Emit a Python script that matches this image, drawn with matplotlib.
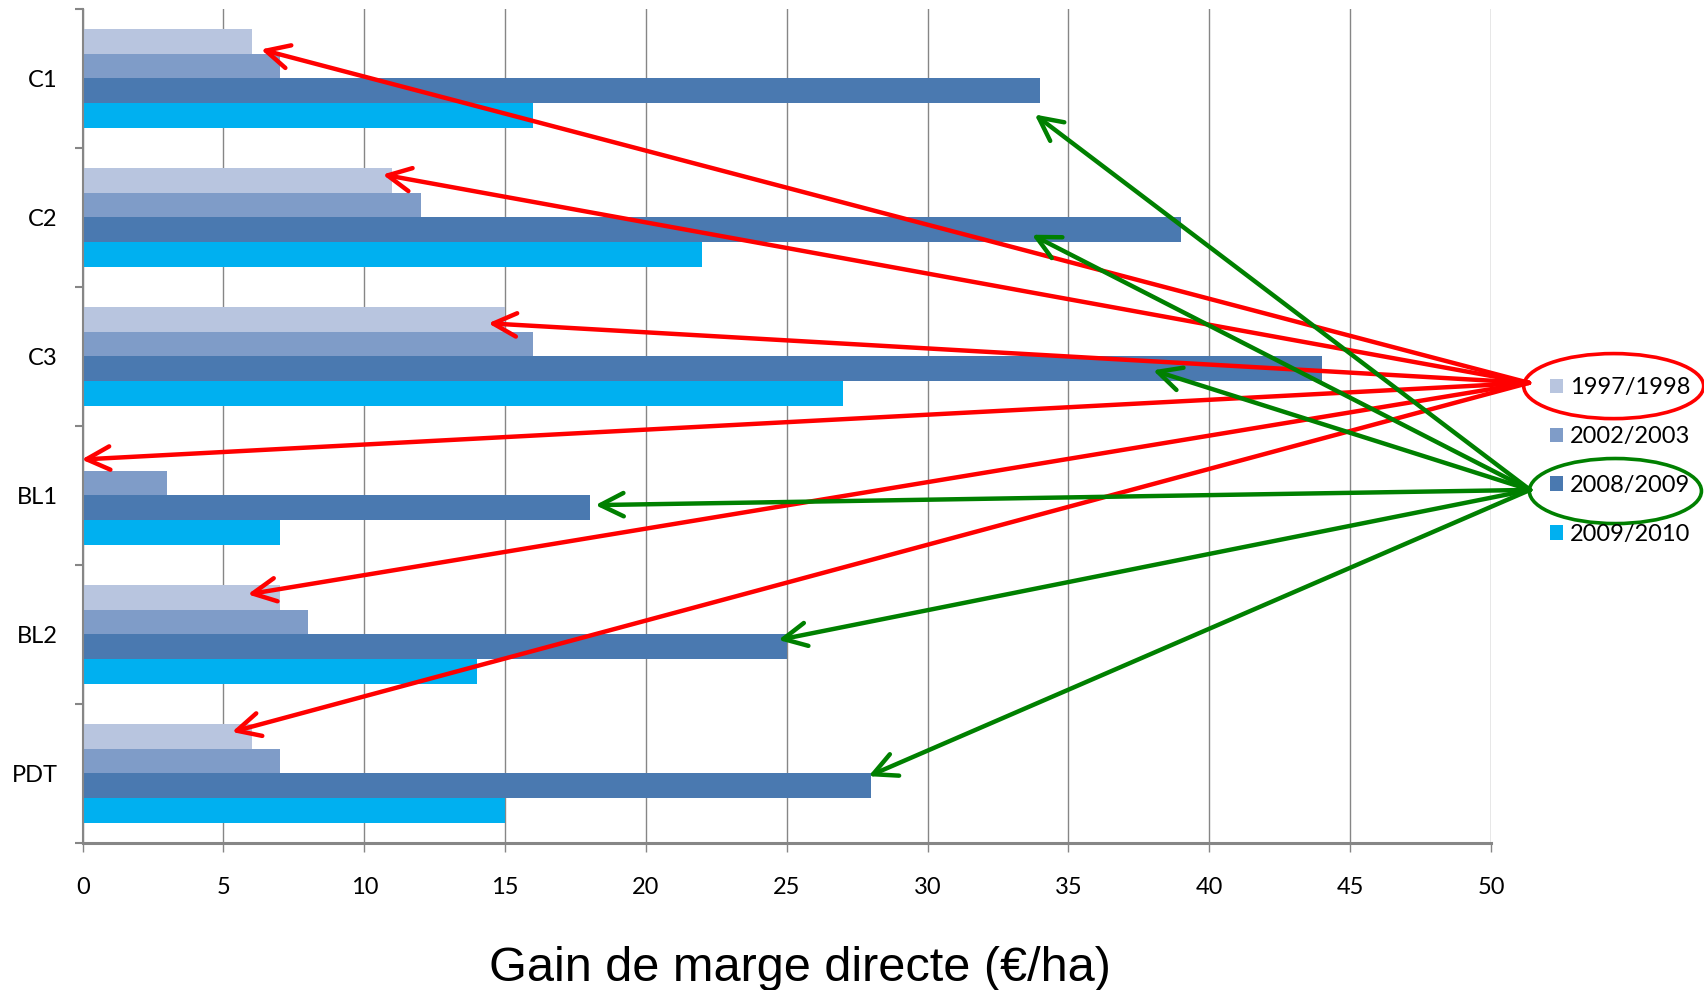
import matplotlib
matplotlib.use('Agg')
import matplotlib.pyplot as plt
from matplotlib.patches import Ellipse
from matplotlib.ticker import FixedLocator
import numpy as np

categories = ['C1', 'C2', 'C3', 'BL1', 'BL2', 'PDT']
seasons = ['1997/1998', '2002/2003', '2008/2009', '2009/2010']
gain_1997 = [6, 11, 15, 0, 7, 6]
gain_2002 = [7, 12, 16, 3, 8, 7]
gain_2008 = [34, 39, 44, 18, 25, 28]
gain_2009 = [16, 22, 27, 7, 14, 15]
x_ticks = [0, 5, 10, 15, 20, 25, 30, 35, 40, 45, 50]

colors = ['#b8c5df', '#7f9cc8', '#4a79b0', '#00b0f0']

# nudges of the arrow tips relative to the bar end / bar centre
red_dx = [0.33, -0.35, -0.6, -0.04, -1.14, -0.7]
red_dy = [0.06, -0.04, 0.03, 0.01, -0.02, -0.03]
green_dx = [-0.2, -5.3, -6.0, 0.2, -0.3, -0.1]
green_dy = [0.17, 0.035, 0.01, -0.02, -0.05, -0.07]

plt.rcParams['font.family'] = ['Lato', 'DejaVu Sans']

fig = plt.figure(figsize=(17.04, 9.9), dpi=100)
ax = fig.add_axes([0.0485, 0.1485, 0.8265, 0.8425])

y = np.arange(len(categories))
h = 0.179
series = [gain_1997, gain_2002, gain_2008, gain_2009]
bars = []
for k, (vals, lab) in enumerate(zip(series, seasons)):
    b = ax.barh(y + (k - 1.5) * h, vals, height=h, color=colors[k],
                label=lab, zorder=2, linewidth=0)
    bars.append(b)

ax.set_xlim(0, 50)
ax.set_ylim(5.5, -0.5)
ax.set_xticks(x_ticks)
ax.set_yticks(y)
ax.set_yticklabels(categories)
ax.yaxis.set_minor_locator(FixedLocator(np.arange(-0.5, 6, 1)))

ax.grid(axis='x', color='#868686', linewidth=1.0, zorder=1)
ax.grid(axis='y', visible=False)
for s in ['top', 'right']:
    ax.spines[s].set_visible(False)
ax.spines['left'].set_color('#868686')
ax.spines['left'].set_linewidth(1.5)
ax.spines['bottom'].set_color('#868686')
ax.spines['bottom'].set_linewidth(2.2)

ax.tick_params(axis='y', which='major', length=0, pad=18, labelsize=17)
ax.tick_params(axis='y', which='minor', length=6, width=1.5, color='#868686', direction='out')
ax.tick_params(axis='x', which='major', length=6.5, width=1.0, color='#868686',
               direction='out', pad=18, labelsize=17)

fig.text(0.4695, 0.022, 'Gain de marge directe (€/ha)', ha='center', va='center',
         fontsize=35, family='Liberation Sans')

fig.legend(handles=bars, labels=seasons, loc='upper left',
           bbox_to_anchor=(0.9095, 0.619), frameon=False, fontsize=17,
           handlelength=0.55, handleheight=0.55, handletextpad=0.3,
           labelspacing=1.18, borderpad=0, borderaxespad=0)

# arrows from the legend to the bars
red_origin = (51.35, 2.19)
green_origin = (51.39, 2.96)
head = '->, head_length=0.6, head_width=0.3'
for i in range(len(categories)):
    tip = (gain_1997[i] + red_dx[i], y[i] - 1.5 * h + red_dy[i])
    ax.annotate('', xy=tip, xytext=red_origin, annotation_clip=False,
                arrowprops=dict(arrowstyle=head, color='#ff0000', lw=3.2,
                                mutation_scale=28, shrinkA=0, shrinkB=0), zorder=5)
for i in range(len(categories)):
    tip = (gain_2008[i] + green_dx[i], y[i] + 0.5 * h + green_dy[i])
    ax.annotate('', xy=tip, xytext=green_origin, annotation_clip=False,
                arrowprops=dict(arrowstyle=head, color='#008000', lw=3.2,
                                mutation_scale=28, shrinkA=0, shrinkB=0), zorder=5)

fig.patches.append(Ellipse((0.947, 0.610), 0.1056, 0.0657, transform=fig.transFigure,
                           fill=False, edgecolor='#ff0000', linewidth=2.6))
fig.patches.append(Ellipse((0.948, 0.504), 0.101, 0.0657, transform=fig.transFigure,
                           fill=False, edgecolor='#008000', linewidth=2.6))

fig.savefig('out.png', dpi=100)
